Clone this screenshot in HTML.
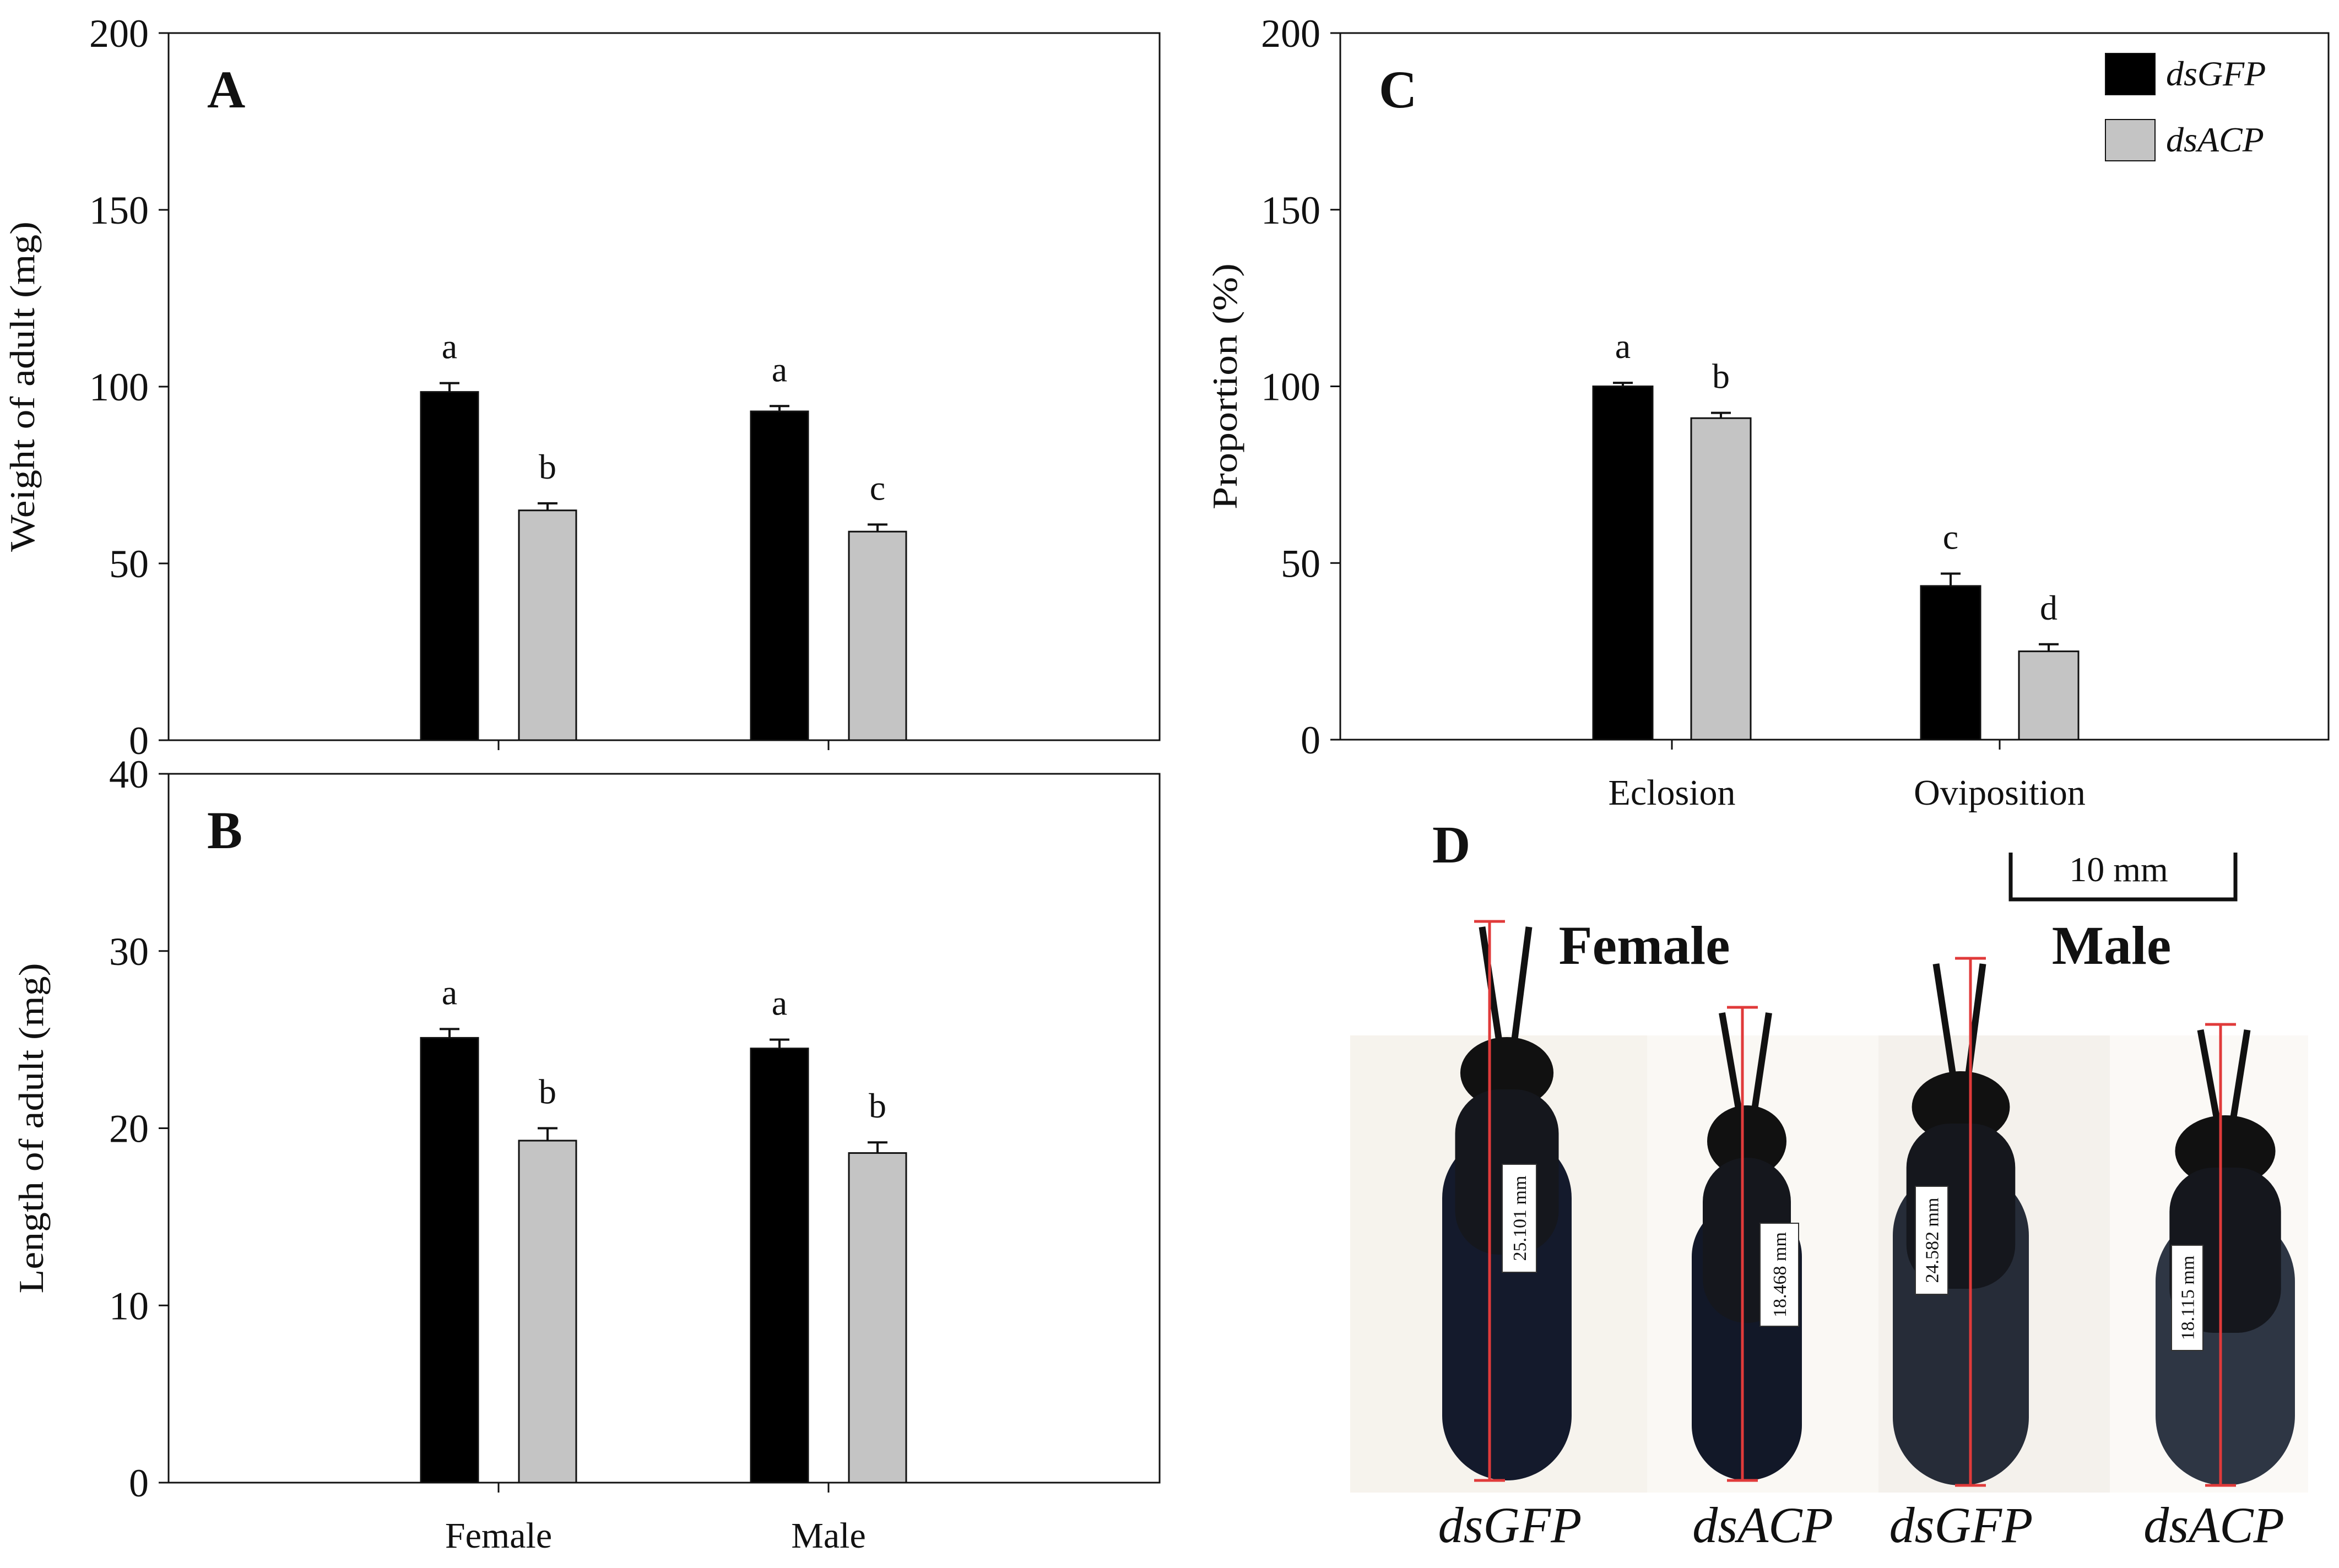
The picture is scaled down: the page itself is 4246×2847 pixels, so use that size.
<!DOCTYPE html>
<html><head><meta charset="utf-8"><style>
html,body{margin:0;padding:0;background:#fff;}
svg{display:block;}
text{font-family:"Liberation Serif",serif;}
</style></head><body>
<svg id="fig" width="4246" height="2847" viewBox="0 0 4246 2847" xmlns="http://www.w3.org/2000/svg">
<rect width="4246" height="2847" fill="#fff"/>
<g id="layer"></g>
</svg>
<script>
// ---- Data ----
const sexCategories = ["Female", "Male"];
const weightGFP = [98.5, 93];
const weightGFPErr = [2.5, 1.5];
const weightACP = [65, 59];
const weightACPErr = [2, 2];
const weightLetters = [["a","b"],["a","c"]];
const weightTicks = [0, 50, 100, 150, 200];

const lengthGFP = [25.1, 24.5];
const lengthGFPErr = [0.5, 0.5];
const lengthACP = [19.3, 18.6];
const lengthACPErr = [0.7, 0.6];
const lengthLetters = [["a","b"],["a","b"]];
const lengthTicks = [0, 10, 20, 30, 40];

const stageCategories = ["Eclosion", "Oviposition"];
const propGFP = [100, 43.5];
const propGFPErr = [1, 3.5];
const propACP = [91, 25];
const propACPErr = [1.5, 2];
const propLetters = [["a","b"],["c","d"]];
const propTicks = [0, 50, 100, 150, 200];

const seriesNames = ["dsGFP", "dsACP"];
const flyLengths = ["25.101 mm", "18.468 mm", "24.582 mm", "18.115 mm"];

const NS = "http://www.w3.org/2000/svg";
const layer = document.getElementById("layer");
function mk(tag, attrs, parent) {
  const e = document.createElementNS(NS, tag);
  for (const k in attrs) e.setAttribute(k, attrs[k]);
  (parent || layer).appendChild(e);
  return e;
}

function panel(cfg) {
  const g = mk("g", {});
  
  
  const ymax = cfg.ticks[cfg.ticks.length - 1];
  const y = v => cfg.bottom - (v / ymax) * (cfg.bottom - cfg.top);
  const frame = mk("rect", {x: cfg.left, y: cfg.top, width: cfg.right - cfg.left, height: cfg.bottom - cfg.top, fill: "none", stroke: "#111", "stroke-width": 3}, g);
  
  
  cfg.ticks.forEach(t => {
    const tk = mk("line", {x1: cfg.left - 18, x2: cfg.left, y1: y(t), y2: y(t), stroke: "#111", "stroke-width": 3}, g);
    
    
    const tl = mk("text", {x: cfg.left - 36, y: y(t) + 25, "text-anchor": "end", "font-size": 72, fill: "#111"}, g);
    tl.textContent = t;
    
    
  });
  const cy = (cfg.top + cfg.bottom) / 2;
  const yt = mk("text", {x: cfg.titleX, y: cy, "text-anchor": "middle", "font-size": 64, fill: "#111", transform: `rotate(-90 ${cfg.titleX} ${cy})`, textLength: cfg.titleLen, lengthAdjust: "spacingAndGlyphs"}, g);
  yt.textContent = cfg.title;
  
  
  const pl = mk("text", {x: cfg.left + 70, y: cfg.top + 135, "font-size": 96, "font-weight": "bold", fill: "#111"}, g);
  pl.textContent = cfg.letter;
  
  
  cfg.cats.forEach((c, i) => {
    const cx = cfg.catX[i];
    const ct = mk("line", {x1: cx, x2: cx, y1: cfg.bottom, y2: cfg.bottom + 18, stroke: "#111", "stroke-width": 3}, g);
    
    
    if (cfg.showCats) {
      const cl = mk("text", {x: cx, y: cfg.bottom + 118, "text-anchor": "middle", "font-size": 66, fill: "#111"}, g);
      cl.textContent = c;
      
      
    }
    const series = [[cfg.s1[i], cfg.e1[i], "#000", -cfg.off], [cfg.s2[i], cfg.e2[i], "#c4c4c4", cfg.off]];
    series.forEach((s, j) => {
      const bx = cx + s[3] - cfg.bw / 2;
      const bar = mk("rect", {x: bx, y: y(s[0]), width: cfg.bw, height: cfg.bottom - y(s[0]), fill: s[2], stroke: "#111", "stroke-width": 3}, g);
      
      
      const ex = cx + s[3];
      const eb = mk("path", {d: `M${ex} ${y(s[0])}V${y(s[0] + s[1])}M${ex - 18} ${y(s[0] + s[1])}H${ex + 18}`, stroke: "#111", "stroke-width": 4, fill: "none"}, g);
      
      
      const lt = mk("text", {x: ex, y: y(s[0] + s[1]) - 45, "text-anchor": "middle", "font-size": 64, fill: "#111"}, g);
      lt.textContent = cfg.letters[i][j];
      
      
    });
  });
}

panel({name: "panel-a-weight-chart", left: 306, right: 2105, top: 60, bottom: 1344, ticks: weightTicks, cats: sexCategories,
  catX: [905, 1504], off: 89, bw: 104, s1: weightGFP, e1: weightGFPErr, s2: weightACP, e2: weightACPErr, letters: weightLetters,
  title: "Weight of adult (mg)", titleX: 62, titleLen: 600, letter: "A", showCats: false});
panel({name: "panel-b-length-chart", left: 306, right: 2105, top: 1405, bottom: 2692, ticks: lengthTicks, cats: sexCategories,
  catX: [905, 1504], off: 89, bw: 104, s1: lengthGFP, e1: lengthGFPErr, s2: lengthACP, e2: lengthACPErr, letters: lengthLetters,
  title: "Length of adult (mg)", titleX: 78, titleLen: 600, letter: "B", showCats: true});
panel({name: "panel-c-proportion-chart", left: 2433, right: 4227, top: 60, bottom: 1343, ticks: propTicks, cats: stageCategories,
  catX: [3035, 3630], off: 89, bw: 108, s1: propGFP, e1: propGFPErr, s2: propACP, e2: propACPErr, letters: propLetters,
  title: "Proportion (%)", titleX: 2245, titleLen: 447, letter: "C", showCats: true});

// legend
[["#000", 97, seriesNames[0]], ["#c4c4c4", 217, seriesNames[1]]].forEach(l => {
  const sw = mk("rect", {x: 3822, y: l[1], width: 90, height: 75, fill: l[0], stroke: "#111", "stroke-width": 2});
  
  
  const lt = mk("text", {x: 3932, y: l[1] + 58, "font-size": 64, "font-style": "italic", fill: "#111"});
  lt.textContent = l[2];
  
  
});

// Panel D photo
const dg = mk("g", {});


const dl = mk("text", {x: 2600, y: 1566, "font-size": 96, "font-weight": "bold", fill: "#111"}, dg);
dl.textContent = "D";


const sb = mk("path", {d: "M3650 1548V1633H4058V1548", stroke: "#111", "stroke-width": 7, fill: "none"}, dg);


const sbt = mk("text", {x: 3846, y: 1600, "text-anchor": "middle", "font-size": 64, fill: "#111"}, dg);
sbt.textContent = "10 mm";


[["Female", 2985], ["Male", 3833]].forEach(s => {
  const t = mk("text", {x: s[1], y: 1750, "text-anchor": "middle", "font-size": 100, "font-weight": "bold", fill: "#111"}, dg);
  t.textContent = s[0];
  
  
});
const bgs = [[2451, 1880, 2990, "#f6f3ed"], [2990, 1880, 3410, "#faf8f4"], [3410, 1880, 3830, "#f4f1ec"], [3830, 1880, 4190, "#fbf9f6"]];
bgs.forEach(b => {
  const r = mk("rect", {x: b[0], y: b[1], width: b[2] - b[0], height: 830, fill: b[3]}, dg);
  
  
});
// flies: [bodyL, bodyR, headTop, bottom, lineX, lineTop, boxL, boxR, boxT, boxB, labelX, bodyColor]
const flies = [
  [2618, 2853, 1878, 2688, 2704, 1673, 2727, 2789, 2114, 2310, 2741, "#141a2c"],
  [3071, 3271, 2002, 2688, 3163, 1829, 3195, 3265, 2221, 2408, 3200, "#121828"],
  [3436, 3683, 1940, 2697, 3577, 1740, 3477, 3536, 2154, 2350, 3560, "#262c38"],
  [3913, 4166, 2020, 2697, 4031, 1860, 3942, 3999, 2261, 2452, 4019, "#2e3644"]
];
flies.forEach((f, i) => {
  const fg = mk("g", {}, dg);
  
  
  const cx = (f[0] + f[1]) / 2, w = f[1] - f[0];
  mk("path", {d: `M${cx - 10} ${f[2] + 40} L${cx - 45} ${f[5] + 10} M${cx + 10} ${f[2] + 40} L${cx + 40} ${f[5] + 10}`, stroke: "#111", "stroke-width": 12, fill: "none"}, fg);
  mk("ellipse", {cx: cx, cy: f[2] + 70, rx: w * 0.36, ry: 65, fill: "#111"}, fg);
  mk("rect", {x: f[0], y: f[2] + 180, width: w, height: f[3] - f[2] - 180, rx: w / 2, fill: f[11]}, fg);
  mk("rect", {x: f[0] + w * 0.1, y: f[2] + 100, width: w * 0.8, height: 300, rx: 80, fill: "#15171d"}, fg);
  const rl = mk("path", {d: `M${f[4]} ${f[5]}V${f[3]}M${f[4] - 28} ${f[5]}H${f[4] + 28}M${f[4] - 28} ${f[3]}H${f[4] + 28}`, stroke: "#e03a3a", "stroke-width": 5, fill: "none"}, fg);
  
  
  mk("rect", {x: f[6], y: f[8], width: f[7] - f[6], height: f[9] - f[8], fill: "#fff", stroke: "#333", "stroke-width": 2}, fg);
  const bx = (f[6] + f[7]) / 2, by = (f[8] + f[9]) / 2;
  const lt = mk("text", {x: bx, y: by + 12, "text-anchor": "middle", "font-size": 34, fill: "#111", transform: `rotate(-90 ${bx} ${by})`}, fg);
  lt.textContent = flyLengths[i];
  
  
  const tl = mk("text", {x: f[10], y: 2800, "text-anchor": "middle", "font-size": 92, "font-style": "italic", fill: "#111"}, dg);
  tl.textContent = seriesNames[i % 2];
  
  
});
</script>
</body></html>
